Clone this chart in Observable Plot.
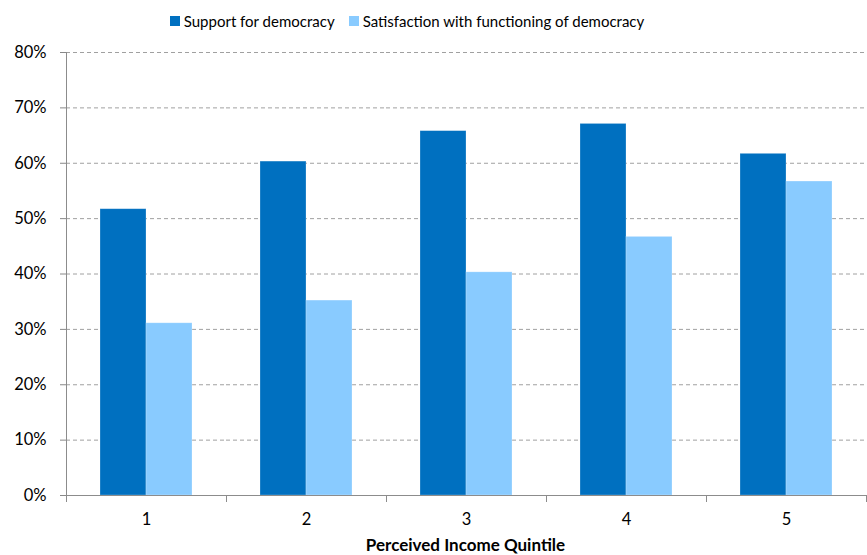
<!DOCTYPE html>
<html>
<head>
<meta charset="utf-8">
<script src="https://cdn.jsdelivr.net/npm/d3@7"></script>
<script src="https://cdn.jsdelivr.net/npm/@observablehq/plot@0.6"></script>
<style>
  html, body { margin: 0; padding: 0; background: #fff; }
  body { width: 867px; height: 555px; overflow: hidden; font-family: Lato, "Open Sans", sans-serif; color: #000; }
  #legend { height: 40px; width: 814px; display: flex; justify-content: center; align-items: center; font-size: 15px; box-sizing: border-box; padding-top: 2px; }
  .item { display: flex; align-items: center; margin: 0 7px; }
  .sw { width: 10px; height: 10px; margin-right: 4px; }
  #caption { width: 867px; box-sizing: border-box; padding-left: 65px; padding-right: 1px; text-align: center; font-weight: bold; font-size: 17px; line-height: 20px; }
</style>
</head>
<body>
<div id="legend"></div>
<div id="chart"></div>
<div id="caption"></div>
<script>
const quintiles = ["1", "2", "3", "4", "5"];
const seriesNames = ["Support for democracy", "Satisfaction with functioning of democracy"];
const support = [51.7, 60.3, 65.8, 67.1, 61.7];
const satisfaction = [31.1, 35.2, 40.3, 46.7, 56.7];
const yTicks = [0, 10, 20, 30, 40, 50, 60, 70, 80];
const colors = ["#0070C0", "#89CBFF"];
const xTitle = "Perceived Income Quintile";

const rows = [];
quintiles.forEach((q, i) => {
  rows.push({quintile: q, series: seriesNames[0], value: support[i]});
  rows.push({quintile: q, series: seriesNames[1], value: satisfaction[i]});
});

// legend
const legend = document.getElementById("legend");
seriesNames.forEach((s, i) => {
  const it = document.createElement("div");
  it.className = "item";
  const sw = document.createElement("div");
  sw.className = "sw";
  sw.style.background = colors[i];
  const t = document.createElement("span");
  t.textContent = s;
  it.appendChild(sw); it.appendChild(t);
  legend.appendChild(it);
});
document.getElementById("caption").textContent = xTitle;

const H = 495, MT = 12, MB = 40, ML = 65, MR = 1;
const innerH = H - MT - MB;

const chart = Plot.plot({
  width: 867,
  height: H,
  marginTop: MT,
  marginBottom: MB,
  marginLeft: ML,
  marginRight: MR,
  style: {fontFamily: "Lato, 'Open Sans', sans-serif", fontSize: "16px", color: "#000", background: "#fff"},
  fx: {domain: quintiles, padding: 0, label: null},
  x: {domain: seriesNames, paddingInner: 0, paddingOuter: 0.72, axis: null},
  y: {domain: [0, 80], label: null},
  color: {domain: seriesNames, range: colors},
  marks: [
    Plot.gridY(yTicks, {stroke: "#a0a0a0", strokeOpacity: 1, strokeDasharray: "4,3", strokeWidth: 1}),
    Plot.barY(rows, {fx: "quintile", x: "series", y: "value", fill: "series", stroke: "#ffffff", strokeOpacity: 0.35, strokeWidth: 0.7}),
    Plot.axisY(yTicks, {tickSize: 6, tickPadding: 14, tickFormat: d => d + "%", stroke: "#888", fill: "#000", fontSize: 16.5}),
    Plot.frame({anchor: "left", facetAnchor: "left", stroke: "#8c8c8c"}),
    Plot.ruleY([0], {stroke: "#8c8c8c"}),
    Plot.frame({anchor: "left", insetTop: innerH, insetBottom: -6, stroke: "#8c8c8c"}),
    Plot.frame({anchor: "right", facetAnchor: "right", insetTop: innerH, insetBottom: -6, stroke: "#8c8c8c"}),
    Plot.axisFx({anchor: "bottom", tickSize: 0, tickPadding: 18, label: null, fill: "#000", fontSize: 16.5})
  ]
});
document.getElementById("chart").appendChild(chart);
</script>
</body>
</html>
